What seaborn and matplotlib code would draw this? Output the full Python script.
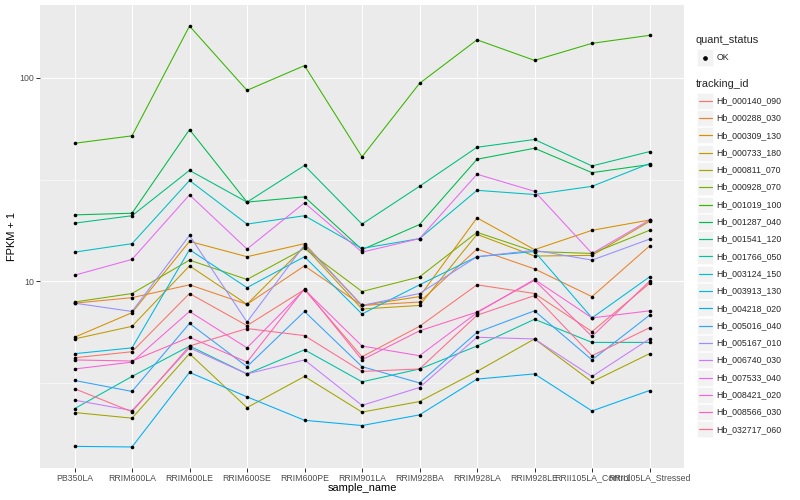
import matplotlib
matplotlib.use("Agg")
import matplotlib.pyplot as plt
from matplotlib.patches import Rectangle
from matplotlib.lines import Line2D
from matplotlib.ticker import NullFormatter
import numpy as np
import pandas as pd
import seaborn as sns

samples = ["PB350LA", "RRIM600LA", "RRIM600LE", "RRIM600SE", "RRIM600PE",
           "RRIM901LA", "RRIM928BA", "RRIM928LA", "RRIM928LE",
           "RRII105LA_Control", "RRII105LA_Stressed"]

tracking_ids = ["Hb_000140_090", "Hb_000288_030", "Hb_000309_130", "Hb_000733_180",
                "Hb_000811_070", "Hb_000928_070", "Hb_001019_100", "Hb_001287_040",
                "Hb_001541_120", "Hb_001766_050", "Hb_003124_150", "Hb_003913_130",
                "Hb_004218_020", "Hb_005016_040", "Hb_005167_010", "Hb_006740_030",
                "Hb_007533_040", "Hb_008421_020", "Hb_008566_030", "Hb_032717_060"]

# FPKM + 1 per sample (order of `samples`)
hb_000140_090 = [4.2, 4.5, 8.7, 6.05, 9.1, 4.25, 6.0, 9.6, 8.7, 5.65, 9.75]
hb_000288_030 = [7.8, 8.3, 9.6, 7.7, 11.9, 7.6, 7.9, 14.4, 11.5, 8.4, 14.9]
hb_000309_130 = [5.3, 7.0, 15.7, 13.2, 15.3, 7.6, 8.4, 20.5, 14.3, 17.8, 20.0]
hb_000733_180 = [5.2, 6.0, 11.9, 7.7, 14.8, 7.3, 7.6, 17.0, 13.3, 13.4, 19.7]
hb_000811_070 = [2.26, 2.12, 4.4, 2.39, 3.4, 2.27, 2.56, 3.6, 5.2, 3.2, 4.4]
hb_000928_070 = [7.9, 8.7, 12.7, 10.2, 14.5, 8.9, 10.5, 17.4, 14.0, 13.7, 17.8]
hb_001019_100 = [47.7, 51.9, 180.0, 86.9, 115.0, 40.9, 94.0, 154.0, 122.0, 148.0, 162.0]
hb_001287_040 = [21.2, 21.6, 55.7, 24.5, 26.0, 14.3, 19.0, 39.8, 45.1, 34.2, 37.5]
hb_001541_120 = [19.3, 21.0, 35.1, 24.5, 37.1, 19.1, 29.3, 45.6, 49.8, 36.9, 43.4]
hb_001766_050 = [2.36, 3.4, 4.8, 3.5, 4.6, 3.2, 3.7, 4.8, 6.5, 5.0, 5.0]
hb_003124_150 = [13.9, 15.3, 31.3, 19.1, 21.0, 14.5, 16.2, 28.0, 26.7, 29.3, 37.9]
hb_003913_130 = [4.4, 4.7, 14.3, 9.3, 13.2, 6.9, 9.6, 13.2, 14.0, 6.6, 10.5]
hb_004218_020 = [1.54, 1.53, 3.56, 2.7, 2.07, 1.95, 2.2, 3.3, 3.5, 2.3, 2.9]
hb_005016_040 = [3.25, 2.87, 6.2, 3.8, 7.1, 3.8, 3.16, 5.6, 7.15, 4.1, 6.8]
hb_005167_010 = [7.8, 7.1, 16.8, 6.3, 15.1, 7.6, 8.7, 13.2, 14.2, 12.7, 16.1]
hb_006740_030 = [2.6, 2.31, 4.7, 3.5, 4.1, 2.45, 3.0, 5.3, 5.2, 3.4, 5.2]
hb_007533_040 = [10.7, 12.8, 26.6, 14.4, 24.3, 13.9, 16.2, 33.6, 27.7, 13.7, 20.0]
hb_008421_020 = [3.7, 4.0, 7.1, 4.7, 9.1, 4.8, 4.3, 7.0, 10.2, 6.6, 7.15]
hb_008566_030 = [4.1, 4.05, 5.3, 4.0, 9.2, 4.1, 5.7, 7.05, 10.1, 5.35, 10.0]
hb_032717_060 = [2.96, 2.28, 4.8, 5.85, 5.4, 3.6, 3.7, 6.8, 8.5, 4.3, 5.9]

series = [hb_000140_090, hb_000288_030, hb_000309_130, hb_000733_180, hb_000811_070,
          hb_000928_070, hb_001019_100, hb_001287_040, hb_001541_120, hb_001766_050,
          hb_003124_150, hb_003913_130, hb_004218_020, hb_005016_040, hb_005167_010,
          hb_006740_030, hb_007533_040, hb_008421_020, hb_008566_030, hb_032717_060]

palette_hex = ["#F8766D", "#EA8331", "#D89000", "#C09B00", "#A3A500", "#7CAE00",
               "#39B600", "#00BB4E", "#00BF7D", "#00C1A3", "#00BFC4", "#00BAE0",
               "#00B0F6", "#35A2FF", "#9590FF", "#C77CFF", "#E76BF3", "#FA62DB",
               "#FF62BC", "#FF6C91"]

rows = []
for tid, vals in zip(tracking_ids, series):
    for i, (s, v) in enumerate(zip(samples, vals)):
        rows.append({"tracking_id": tid, "sample_name": s, "pos": i,
                     "fpkm": v, "quant_status": "OK"})
df = pd.DataFrame(rows)

sns.set_style("darkgrid", {"axes.facecolor": "#EBEBEB", "grid.color": "white"})
plt.rcParams["font.family"] = ["Liberation Sans", "DejaVu Sans"]

W, H = 800, 500
fig = plt.figure(figsize=(W / 72, H / 72), dpi=72)
fig.patch.set_facecolor("white")

def fx(x):
    return x / W

def fy(y):
    return 1 - y / H

ax = fig.add_axes([fx(40), fy(468), (684 - 40) / W, (468 - 5) / H])

sns.lineplot(data=df, x="pos", y="fpkm", hue="tracking_id", hue_order=tracking_ids,
             palette=palette_hex, sort=False, estimator=None, errorbar=None,
             linewidth=1.07, legend=False, ax=ax)
sns.scatterplot(data=df, x="pos", y="fpkm", color="black", s=13, linewidth=0,
                legend=False, ax=ax, zorder=5)

ax.set_yscale("log")
lo = np.log10(df["fpkm"].min())
hi = np.log10(df["fpkm"].max())
pad = (hi - lo) * 0.05
ax.set_ylim(10 ** (lo - pad), 10 ** (hi + pad))
ax.set_xlim(-0.6, len(samples) - 0.4)

ax.set_yticks([10, 100])
ax.set_yticklabels(["10", "100"])
ax.set_yticks([10 ** 0.5, 10 ** 1.5], minor=True)
ax.yaxis.set_minor_formatter(NullFormatter())
ax.set_xticks(range(len(samples)))
ax.set_xticklabels(samples)
ax.xaxis.set_minor_locator(matplotlib.ticker.NullLocator())

ax.grid(False)
ax.grid(which="major", color="white", linewidth=1.07)
ax.grid(which="minor", axis="y", color="white", linewidth=0.53)
ax.set_axisbelow(True)
ax.tick_params(which="major", bottom=True, left=True, length=3.6, width=1.0,
               color="#333333", labelsize=8.8, labelcolor="#4D4D4D", pad=2.0)
ax.tick_params(which="minor", length=0)
for sp in ax.spines.values():
    sp.set_visible(False)
ax.set_xlabel("")
ax.set_ylabel("")

fig.text(fx(362), fy(488), "sample_name", fontsize=11, ha="center", va="center",
         color="black")
fig.text(fx(12.5), fy(236.5), "FPKM + 1", fontsize=11, ha="center", va="center",
         rotation=90, color="black")

# Legend: quant_status
fig.text(fx(696), fy(40), "quant_status", fontsize=11, ha="left", va="center")
fig.add_artist(Rectangle((fx(697), fy(65.5)), 16 / W, 16 / H,
                         transform=fig.transFigure, facecolor="#F2F2F2",
                         edgecolor="white", linewidth=0.5, zorder=1))
fig.add_artist(Line2D([fx(705)], [fy(57.5)], marker="o", color="black",
                      markerfacecolor="black", markeredgecolor="black",
                      markersize=3.6, linestyle="none",
                      transform=fig.transFigure, zorder=3))
fig.text(fx(716.5), fy(57.5), "OK", fontsize=8.8, ha="left", va="center")

# Legend: tracking_id
fig.text(fx(696), fy(84), "tracking_id", fontsize=11, ha="left", va="center")
for k, (tid, col) in enumerate(zip(tracking_ids, palette_hex)):
    yc = 100.7 + 17.3 * k
    fig.add_artist(Rectangle((fx(697), fy(yc + 8)), 16 / W, 16 / H,
                             transform=fig.transFigure, facecolor="#F2F2F2",
                             edgecolor="white", linewidth=0.5, zorder=1))
    fig.add_artist(Line2D([fx(698.5), fx(711.5)], [fy(yc), fy(yc)], color=col,
                          linestyle="-", linewidth=1.2,
                          transform=fig.transFigure, zorder=3))
    fig.text(fx(716.5), fy(yc), tid, fontsize=8.8, ha="left", va="center")

fig.savefig("out.png", dpi=72, facecolor="white")
